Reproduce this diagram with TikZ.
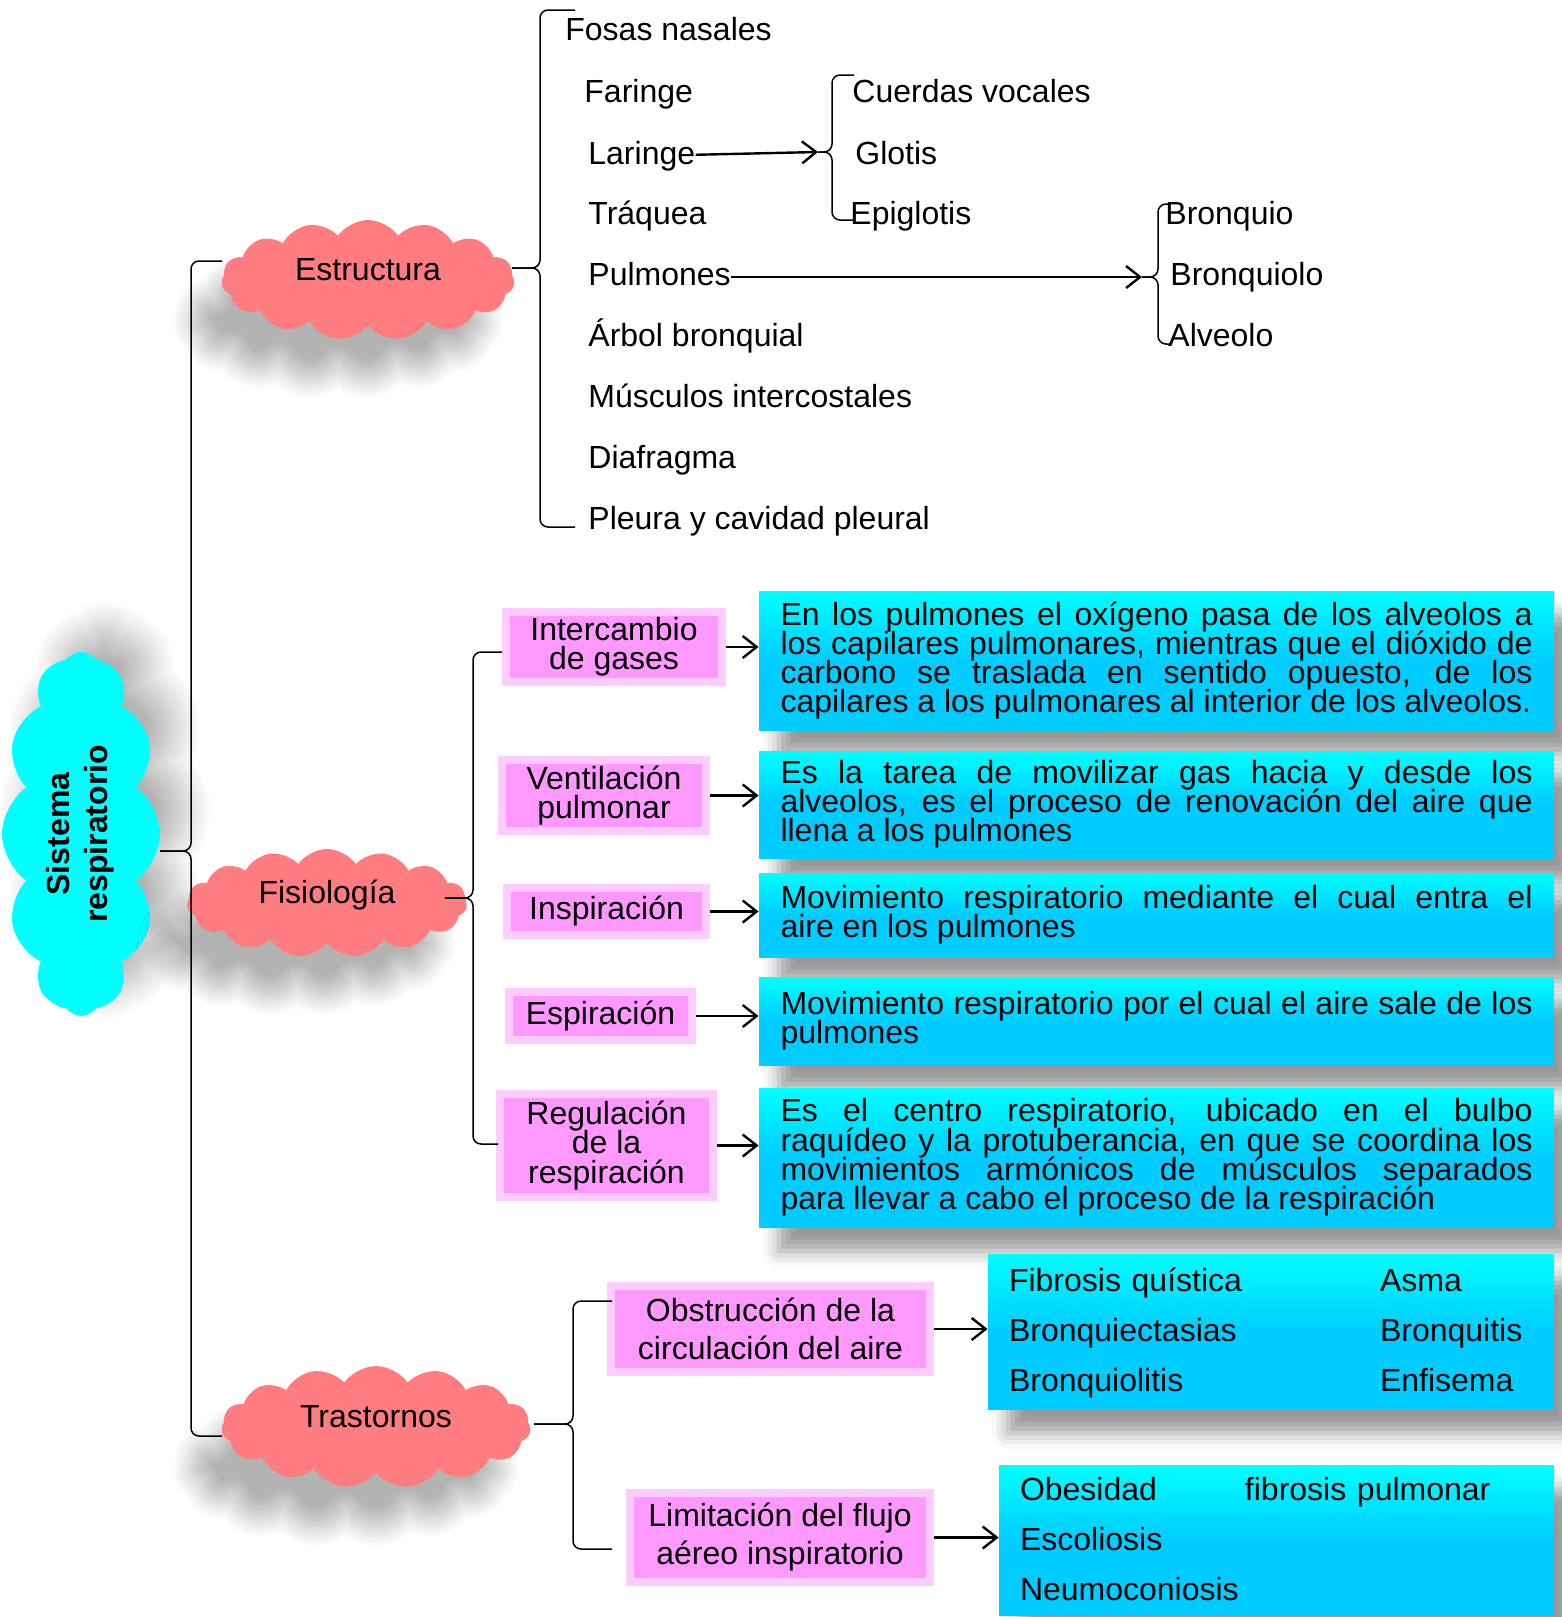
\documentclass[tikz,border=0pt]{standalone}
\usepackage{fontspec}
\setmainfont{Liberation Sans}
\usetikzlibrary{shapes.symbols,shadows.blur,arrows.meta,positioning}
\definecolor{nubecyan}{RGB}{0,255,255}
\definecolor{nubepink}{RGB}{255,124,128}
\definecolor{cajafill}{RGB}{255,153,255}
\definecolor{cajaborde}{RGB}{255,204,255}
\definecolor{textotop}{RGB}{0,255,255}
\definecolor{textomid}{RGB}{0,204,255}
\setlength{\lineskiplimit}{-10pt}

\begin{document}
\begin{tikzpicture}[x=0.5pt, y=-0.5pt, >={Straight Barb[length=7pt,width=11pt]},
	every node/.style={font=\fontsize{16}{14.6}\selectfont, inner sep=0pt},
	item/.style={anchor=west, text height=12pt, text depth=3.5pt},
	nubebase/.style={cloud, cloud puffs=15, cloud puff arc=110, cloud ignores aspect},
	nube/.style={nubebase, fill=nubepink, text height=12pt, text depth=12pt,
		blur shadow={shadow xshift=-15pt, shadow yshift=-20pt, shadow blur radius=10pt, shadow blur steps=20, shadow opacity=30}},
	caja/.style={draw=cajaborde, fill=cajafill, line width=4pt, outer sep=2pt, align=center},
	texto/.style={top color=textotop, bottom color=textomid, middle color=textomid,
		text width=376pt, inner xsep=10.75pt, align=justify,
		execute at begin node={\baselineskip=14.6pt\lineskiplimit=-10pt\relax},
		blur shadow={shadow xshift=10pt, shadow yshift=-12pt, shadow blur radius=8pt}},
	lista/.style={texto, font=\fontsize{16}{25}\selectfont, text width=262pt, inner xsep=10.5pt, align=left},
	brk/.style={rounded corners=4pt, line width=0.75pt},
	flecha/.style={->, line width=1.2pt}]
	\useasboundingbox (0,0) rectangle (1562,1617);

	\node[nubebase, cloud puffs=12, fill=nubecyan, minimum width=79pt, minimum height=182pt, font=\fontsize{16}{19}\selectfont\bfseries,
		blur shadow={shadow xshift=12pt, shadow yshift=12pt, shadow blur radius=14pt, shadow blur steps=20, shadow opacity=30}] (sr) at (81,834)
		{\rotatebox{90}{\begin{tabular}{@{}c@{}}Sistema\\respiratorio\end{tabular}}};
	\node[nube, minimum width=146.5pt, minimum height=60pt] (est) at (368,280) {Estructura\hspace{10pt}};
	\node[nube, minimum width=140pt, minimum height=54pt] (fis) at (327,903) {Fisiología\hspace{10pt}};
	\node[nube, minimum width=154.5pt, minimum height=61pt] (tra) at (376,1427) {Trastornos\hspace{10pt}};

	\node[item] (e1) at (565,32) {Fosas nasales};
	\node[item] (e2) at (584,94) {Faringe};
	\node[item] (e3) at (588,156) {Laringe};
	\node[item] (e4) at (588,216) {Tráquea};
	\node[item] (e5) at (588,277) {Pulmones};
	\node[item] (e6) at (588,338) {Árbol bronquial};
	\node[item] (e7) at (588,399) {Músculos intercostales};
	\node[item] (e8) at (588,460) {Diafragma};
	\node[item] (e9) at (588,521) {Pleura y cavidad pleural};

	\node[item] (l1) at (852,94) {Cuerdas vocales};
	\node[item] (l2) at (855,156) {Glotis};
	\node[item] (l3) at (850,216) {Epiglotis};

	\node[item] (b1) at (1165,216) {Bronquio};
	\node[item] (b2) at (1170,277) {Bronquiolo};
	\node[item] (b3) at (1168,338) {Alveolo};

	\node[caja, minimum width=108pt, minimum height=35pt] (p1) at (614,647) {Intercambio\\de gases};
	\node[caja, minimum width=102pt, minimum height=35.5pt] (p2) at (604,795.5) {Ventilación\\pulmonar};
	\node[caja, minimum width=99.5pt, minimum height=23.5pt] (p3) at (606.5,911.5) {Inspiración};
	\node[caja, minimum width=91.5pt, minimum height=24pt] (p4) at (600.5,1016) {Espiración};
	\node[caja, minimum width=106.5pt, minimum height=51.5pt] (p5) at (606.5,1145.5) {Regulación\\de la\\respiración};
	\node[caja, minimum width=159.5pt, minimum height=43pt, font=\fontsize{16}{19}\selectfont] (p6) at (770.5,1329) {Obstrucción de la\\circulación del aire};
	\node[caja, minimum width=150pt, minimum height=44.5pt, font=\fontsize{16}{19}\selectfont] (p7) at (780,1537.5) {Limitación del flujo\\aéreo inspiratorio};

	\node[texto, minimum height=69.5pt] (c1) at (1156.5,660.5) {En los pulmones el oxígeno pasa de los alveolos a\linebreak los capilares pulmonares, mientras que el dióxido de\linebreak carbono se traslada en sentido opuesto, de los\linebreak capilares a los pulmonares al interior de los alveolos.};
	\node[texto, minimum height=53.5pt] (c2) at (1156.5,804.5) {Es la tarea de movilizar gas hacia y desde los\linebreak alveolos, es el proceso de renovación del aire que\linebreak llena a los pulmones};
	\node[texto, minimum height=42pt] (c3) at (1156.5,915) {Movimiento respiratorio mediante el cual entra el\linebreak aire en los pulmones};
	\node[texto, minimum height=44pt] (c4) at (1156.5,1021) {Movimiento respiratorio por el cual el aire sale de los\linebreak pulmones};
	\node[texto, minimum height=69.5pt] (c5) at (1156.5,1157.5) {Es el centro respiratorio, ubicado en el bulbo\linebreak raquídeo y la protuberancia, en que se coordina los\linebreak movimientos armónicos de músculos separados\linebreak para llevar a cabo el proceso de la respiración};
	\node[lista, minimum height=77.5pt] (c6) at (1271,1331.5) {\begin{tabular}{@{}p{185.5pt}@{}l@{}}Fibrosis quística & Asma\\Bronquiectasias & Bronquitis\\Bronquiolitis & Enfisema\end{tabular}};
	\node[lista, text width=256.5pt, minimum height=75pt] (c7) at (1276.5,1540) {\begin{tabular}{@{}p{112.5pt}@{}l@{}}Obesidad & fibrosis pulmonar\\Escoliosis\\Neumoconiosis\end{tabular}};

	\coordinate (sr-b) at (160,851);
	\coordinate (est-b) at (512,268);
	\coordinate (lar-b) at (818,152);
	\coordinate (pul-b) at (1142,277);
	\coordinate (fis-b) at (445,898);
	\coordinate (tra-b) at (534,1424);

	\draw[brk] (222,261) -- (191,261) -- (191,851) -- (sr-b);
	\draw[brk] (222,1436) -- (191,1436) -- (191,851) -- (sr-b);
	\draw[brk] (575,10) -- (540,10) -- (540,268) -- (est-b);
	\draw[brk] (575,527) -- (540,527) -- (540,268) -- (est-b);
	\draw[brk] (854,75) -- (832,75) -- (832,152) -- (lar-b);
	\draw[brk] (854,220) -- (832,220) -- (832,152) -- (lar-b);
	\draw[brk] (1170,204) -- (1158,204) -- (1158,277) -- (pul-b);
	\draw[brk] (1170,344) -- (1158,344) -- (1158,277) -- (pul-b);
	\draw[brk] (502,652) -- (473,652) -- (473,898) -- (fis-b);
	\draw[brk] (498,1144) -- (473,1144) -- (473,898) -- (fis-b);
	\draw[brk] (612,1301) -- (573,1301) -- (573,1424) -- (tra-b);
	\draw[brk] (612,1549) -- (573,1549) -- (573,1424) -- (tra-b);

	\draw[flecha] (e3) -- (lar-b);
	\draw[flecha] (e5) -- (pul-b);
	\draw[flecha] (p1) -- (p1 -| c1.west);
	\draw[flecha] (p2) -- (p2 -| c2.west);
	\draw[flecha] (p3) -- (p3 -| c3.west);
	\draw[flecha] (p4) -- (p4 -| c4.west);
	\draw[flecha] (p5) -- (p5 -| c5.west);
	\draw[flecha] (p6) -- (p6 -| c6.west);
	\draw[flecha] (p7) -- (p7 -| c7.west);
\end{tikzpicture}
\end{document}
